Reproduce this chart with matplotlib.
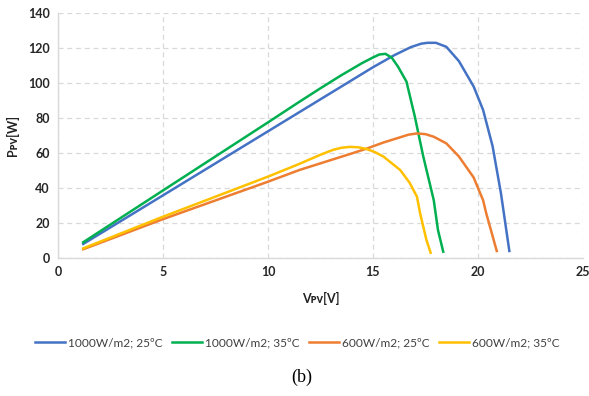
import matplotlib.pyplot as plt

plt.rcParams['font.family'] = ['Lato', 'DejaVu Sans']

# PV curves: voltage [V] and power [W]
v_1000_25 = [1.2, 5, 10, 15, 16.0, 16.8, 17.3, 17.6, 18.0, 18.5, 19.1, 19.8, 20.25, 20.7, 21.1, 21.5]
p_1000_25 = [8, 35.8, 72.4, 109, 115.8, 120.5, 122.5, 123, 123, 120.7, 112.5, 98, 84.6, 64, 37, 4]

v_1000_35 = [1.2, 5, 10, 11.5, 12.5, 13.5, 14.0, 14.5, 15.0, 15.3, 15.6, 15.9, 16.2, 16.6, 17.0, 17.4, 17.9, 18.1, 18.35]
p_1000_35 = [9, 38.6, 77.5, 89.3, 97, 104.5, 108, 111.5, 114.6, 116.3, 116.7, 114.5, 109.3, 100.8, 80.7, 58, 33, 16, 3.6]

v_600_25 = [1.2, 5, 10, 11.5, 13.9, 14.7, 15.5, 16.3, 16.7, 17.1, 17.5, 17.9, 18.5, 19.1, 19.8, 20.25, 20.4, 20.9]
p_600_25 = [5, 22.2, 43.6, 50.3, 59.4, 62.5, 66, 69, 70.5, 71.2, 70.8, 69.3, 65.5, 58, 46, 33, 25.5, 4]

v_600_35 = [1.2, 5, 10, 11.5, 12.5, 13.1, 13.5, 13.9, 14.3, 14.7, 15.1, 15.5, 16.3, 16.75, 17.1, 17.25, 17.55, 17.75]
p_600_35 = [5.5, 23.6, 46.5, 53.8, 59, 61.8, 63, 63.5, 63.3, 62.3, 60.5, 58, 50.3, 43, 35, 25.5, 10.3, 3]

labels = ['1000W/m2; 25ºC', '1000W/m2; 35ºC', '600W/m2; 25ºC', '600W/m2; 35ºC']
colors = ['#4472C4', '#00B050', '#ED7D31', '#FFC000']

fig = plt.figure(figsize=(5.89, 3.96), dpi=100)
ax = fig.add_axes([0.0985, 0.3485, 0.891, 0.6185])

series = [(v_1000_25, p_1000_25), (v_1000_35, p_1000_35),
          (v_600_25, p_600_25), (v_600_35, p_600_35)]
for (v, p), lab, c in zip(series, labels, colors):
    ax.plot(v, p, color=c, lw=1.8, label=lab, solid_joinstyle='round')

ax.set_xlim(0, 25)
ax.set_ylim(0, 140)
ax.set_xticks(range(0, 26, 5))
ax.set_yticks(range(0, 141, 20))
ax.grid(True, color='#d9d9d9', linestyle=(0, (4, 3)), lw=0.9)
ax.set_axisbelow(True)
for s in ['top', 'right']:
    ax.spines[s].set_visible(False)
for s in ['left', 'bottom']:
    ax.spines[s].set_color('#d9d9d9')
    ax.spines[s].set_linewidth(1.0)
ax.tick_params(length=0, labelsize=9, labelcolor='#262626', pad=6)
for t in ax.get_xticklabels() + ax.get_yticklabels():
    t.set_fontweight('bold')

fig.text(0.544, 0.247, 'V\u1D18\u1D20[V]', ha='center', va='center',
         fontsize=9, fontweight='bold', color='#222222')
fig.text(0.022, 0.658, 'P\u1D18\u1D20[W]', ha='center', va='center',
         rotation=90, fontsize=9, fontweight='bold', color='#222222')

fig.legend(loc='center', bbox_to_anchor=(0.505, 0.134), ncol=4, frameon=False,
           fontsize=8.6, handlelength=2.5, handletextpad=0.25, columnspacing=0.8,
           labelcolor='#404040')

fig.text(0.513, 0.048, '(b)', ha='center', va='center', fontsize=13,
         family='Liberation Serif')

fig.savefig('out.png', dpi=100)
